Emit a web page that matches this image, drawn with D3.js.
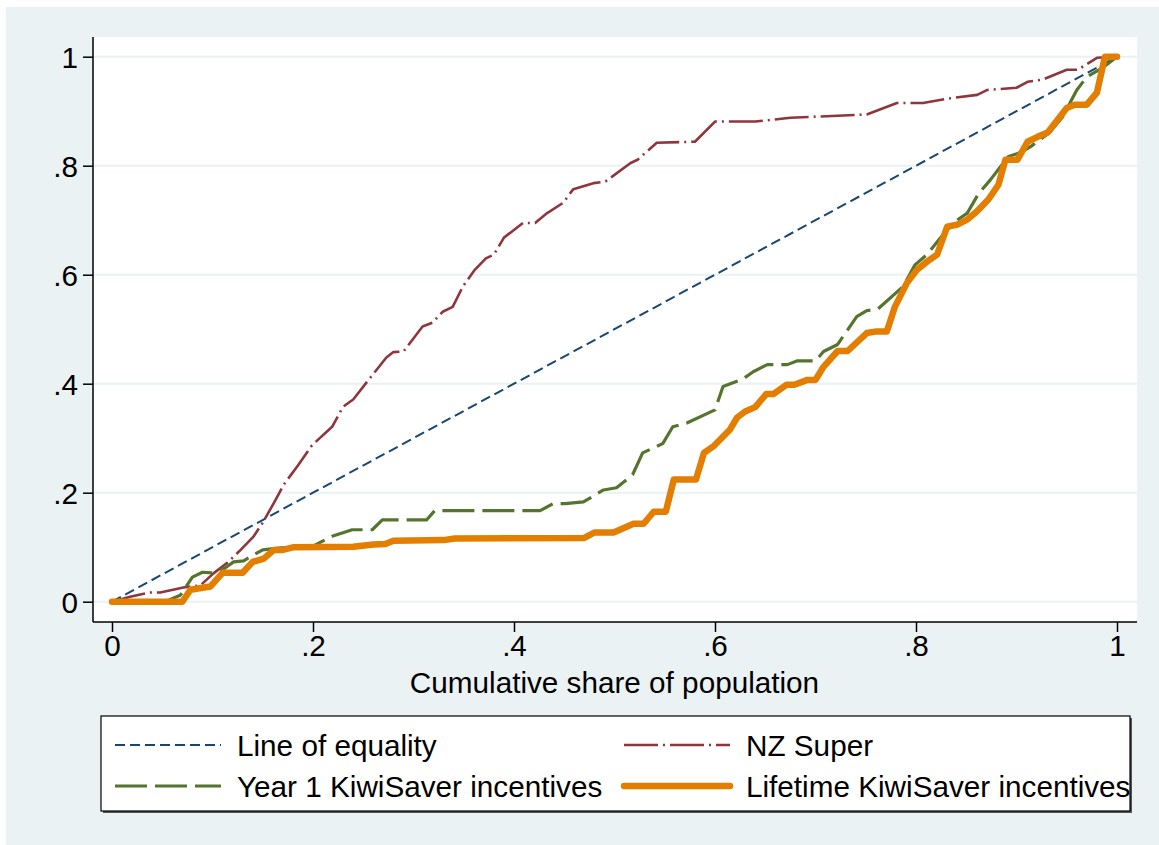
<!DOCTYPE html>
<html>
<head>
<meta charset="utf-8">
<script src="https://cdn.jsdelivr.net/npm/d3@7"></script>
<style>
  body { margin: 0; background: #ffffff; }
  text { font-family: "Liberation Sans", Arial, sans-serif; fill: #000000; }
</style>
</head>
<body>
<div class="D3"></div>
<script>
//concentration curve data
var equalityX = [0, 1];
var equalityY = [0, 1];

var superX = [0, 0.018, 0.038, 0.048, 0.071, 0.088, 0.101, 0.115, 0.128, 0.141, 0.150, 0.161, 0.171, 0.185, 0.199,
  0.219, 0.230, 0.240, 0.254, 0.273, 0.280, 0.290, 0.309, 0.319, 0.329, 0.339, 0.349, 0.361, 0.372, 0.380,
  0.390, 0.409, 0.421, 0.433, 0.449, 0.459, 0.479, 0.491, 0.516, 0.523, 0.542, 0.580, 0.600, 0.640, 0.675,
  0.751, 0.781, 0.807, 0.831, 0.861, 0.871, 0.900, 0.911, 0.926, 0.950, 0.961, 0.980, 1];
var superY = [0, 0.009, 0.017, 0.017, 0.026, 0.030, 0.052, 0.072, 0.095, 0.120, 0.145, 0.181, 0.215, 0.250, 0.287,
  0.321, 0.358, 0.371, 0.404, 0.448, 0.458, 0.459, 0.505, 0.512, 0.532, 0.541, 0.578, 0.609, 0.630, 0.637,
  0.668, 0.695, 0.695, 0.713, 0.732, 0.757, 0.768, 0.771, 0.805, 0.811, 0.842, 0.844, 0.881, 0.881, 0.888,
  0.894, 0.915, 0.915, 0.923, 0.930, 0.939, 0.943, 0.954, 0.958, 0.976, 0.976, 0.998, 1];

var year1X = [0, 0.055, 0.068, 0.080, 0.090, 0.100, 0.111, 0.121, 0.131, 0.141, 0.150, 0.168, 0.199, 0.219, 0.239,
  0.259, 0.269, 0.313, 0.321, 0.426, 0.439, 0.451, 0.469, 0.489, 0.502, 0.518, 0.528, 0.548, 0.558, 0.572,
  0.600, 0.608, 0.628, 0.638, 0.652, 0.672, 0.682, 0.700, 0.708, 0.722, 0.741, 0.751, 0.762, 0.787, 0.799,
  0.811, 0.824, 0.837, 0.851, 0.862, 0.874, 0.884, 0.892, 0.904, 0.914, 0.933, 0.946, 0.960, 0.970, 0.986, 1];
var year1Y = [0, 0.002, 0.012, 0.045, 0.054, 0.053, 0.060, 0.073, 0.075, 0.086, 0.095, 0.099, 0.101, 0.120, 0.132,
  0.132, 0.150, 0.150, 0.167, 0.167, 0.180, 0.180, 0.183, 0.205, 0.209, 0.233, 0.273, 0.290, 0.321, 0.328,
  0.352, 0.395, 0.409, 0.422, 0.435, 0.435, 0.442, 0.442, 0.459, 0.472, 0.523, 0.534, 0.537, 0.578, 0.618,
  0.637, 0.667, 0.695, 0.713, 0.748, 0.774, 0.798, 0.817, 0.824, 0.835, 0.861, 0.890, 0.939, 0.963, 0.980, 1];

var lifetimeX = [0, 0.070, 0.078, 0.098, 0.110, 0.130, 0.140, 0.151, 0.161, 0.170, 0.181, 0.240, 0.260, 0.272, 0.280,
  0.330, 0.341, 0.470, 0.480, 0.499, 0.519, 0.529, 0.539, 0.551, 0.559, 0.581, 0.589, 0.599, 0.615, 0.622,
  0.630, 0.640, 0.651, 0.658, 0.671, 0.679, 0.692, 0.700, 0.708, 0.722, 0.732, 0.751, 0.761, 0.771, 0.779,
  0.791, 0.801, 0.811, 0.821, 0.831, 0.841, 0.851, 0.861, 0.872, 0.882, 0.889, 0.901, 0.911, 0.921, 0.931,
  0.950, 0.958, 0.970, 0.980, 0.988, 1];
var lifetimeY = [0, 0, 0.022, 0.028, 0.053, 0.053, 0.073, 0.079, 0.095, 0.095, 0.100, 0.101, 0.105, 0.106, 0.112,
  0.113, 0.116, 0.117, 0.127, 0.127, 0.143, 0.143, 0.165, 0.165, 0.224, 0.224, 0.273, 0.286, 0.316, 0.338,
  0.349, 0.357, 0.381, 0.381, 0.398, 0.398, 0.407, 0.407, 0.431, 0.460, 0.460, 0.493, 0.496, 0.496, 0.541,
  0.585, 0.609, 0.624, 0.637, 0.688, 0.692, 0.701, 0.717, 0.738, 0.765, 0.811, 0.811, 0.844, 0.853, 0.861,
  0.906, 0.912, 0.912, 0.934, 1.0, 1];

var tickValues = [0, 0.2, 0.4, 0.6, 0.8, 1];
var tickLabels = ["0", ".2", ".4", ".6", ".8", "1"];
var xTitle = "Cumulative share of population";

//series names and their stata-like styles
var seriesNames = ["Line of equality", "NZ Super", "Year 1 KiwiSaver incentives", "Lifetime KiwiSaver incentives"];
var seriesX = [equalityX, superX, year1X, lifetimeX];
var seriesY = [equalityY, superY, year1Y, lifetimeY];
var seriesColors = ["#1a476f", "#90353b", "#55752f", "#e37e00"];
var seriesWidths = [2, 2.6, 3.2, 6.5];
var seriesDash = ["10,5", "34,5,2,5", "32,8", null];

var fontSize = 29.7;

//svg and plot region sizes
var svgWidth = 1159;
var svgHeight = 845;

var plot = { left: 93, top: 37, right: 1137, bottom: 622 };

var svg = d3
  .select(".D3")
  .append("svg")
  .attr("width", svgWidth)
  .attr("height", svgHeight);

//light outer background, white plot region
svg.append("rect")
  .attr("x", 6)
  .attr("y", 7)
  .attr("width", svgWidth - 6)
  .attr("height", svgHeight - 7)
  .attr("fill", "#eaf2f3");

svg.append("rect")
  .attr("x", plot.left)
  .attr("y", plot.top)
  .attr("width", plot.right - plot.left)
  .attr("height", plot.bottom - plot.top)
  .attr("fill", "#ffffff");

//scales
var xScale = d3.scaleLinear()
  .domain([0, 1])
  .range([112, 1117]);

var yScale = d3.scaleLinear()
  .domain([0, 1])
  .range([601.7, 56.7]);

//horizontal grid lines
svg.append("g")
  .selectAll("line")
  .data(tickValues)
  .enter()
  .append("line")
  .attr("x1", plot.left)
  .attr("x2", plot.right)
  .attr("y1", d => yScale(d))
  .attr("y2", d => yScale(d))
  .attr("stroke", "#eaf2f3")
  .attr("stroke-width", 2);

//axes
var bottomAxis = d3.axisBottom(xScale)
  .tickValues(tickValues)
  .tickFormat((d, i) => tickLabels[i])
  .tickSize(10)
  .tickPadding(4)
  .tickSizeOuter(0);

var leftAxis = d3.axisLeft(yScale)
  .tickValues(tickValues)
  .tickFormat((d, i) => tickLabels[i])
  .tickSize(10)
  .tickPadding(5)
  .tickSizeOuter(0);

var xAxis = svg.append("g")
  .attr("transform", `translate(0, ${plot.bottom})`)
  .call(bottomAxis);

var yAxis = svg.append("g")
  .attr("transform", `translate(${plot.left}, 0)`)
  .call(leftAxis);

//stretch the domain lines over the whole plot region
xAxis.select(".domain").remove();
yAxis.select(".domain").remove();

svg.append("line")
  .attr("x1", plot.left).attr("x2", plot.right)
  .attr("y1", plot.bottom).attr("y2", plot.bottom)
  .attr("stroke", "#000").attr("stroke-width", 1.5);

svg.append("line")
  .attr("x1", plot.left).attr("x2", plot.left)
  .attr("y1", plot.top).attr("y2", plot.bottom)
  .attr("stroke", "#000").attr("stroke-width", 1.5);

[xAxis, yAxis].forEach(function(ax) {
  ax.selectAll(".tick line").attr("stroke", "#000").attr("stroke-width", 1.5);
  ax.selectAll(".tick text")
    .attr("font-size", fontSize)
    .attr("font-family", "Liberation Sans, Arial, sans-serif")
    .attr("fill", "#000");
});
xAxis.selectAll(".tick text").attr("dy", "0.69em");
yAxis.selectAll(".tick text").attr("dy", "0.36em");

//x axis title
svg.append("text")
  .attr("x", (xScale(0) + xScale(1)) / 2)
  .attr("y", 693)
  .attr("text-anchor", "middle")
  .attr("font-size", fontSize)
  .text(xTitle);

//curves
var line = d3.line()
  .x(d => xScale(d[0]))
  .y(d => yScale(d[1]));

seriesNames.forEach(function(name, i) {
  var pts = seriesX[i].map((x, j) => [x, seriesY[i][j]]);
  svg.append("path")
    .datum(pts)
    .attr("d", line)
    .attr("fill", "none")
    .attr("stroke", seriesColors[i])
    .attr("stroke-width", seriesWidths[i])
    .attr("stroke-dasharray", seriesDash[i])
    .attr("stroke-linejoin", "round")
    .attr("stroke-linecap", i === 3 ? "round" : "butt");
});

//legend box with shadow
var legend = { x: 101, y: 716, w: 1029, h: 95 };

svg.append("rect")
  .attr("x", legend.x + 2)
  .attr("y", legend.y + 2)
  .attr("width", legend.w)
  .attr("height", legend.h)
  .attr("fill", "#555");

svg.append("rect")
  .attr("x", legend.x)
  .attr("y", legend.y)
  .attr("width", legend.w)
  .attr("height", legend.h)
  .attr("fill", "#ffffff")
  .attr("stroke", "#000")
  .attr("stroke-width", 1.2);

var legendCols = [115, 624];
var legendRows = [745, 786];

var legendItems = svg.selectAll(".legend-item")
  .data(seriesNames)
  .enter()
  .append("g")
  .classed("legend-item", true)
  .attr("transform", (d, i) => `translate(${legendCols[i % 2]}, ${legendRows[Math.floor(i / 2)]})`);

legendItems.append("line")
  .attr("x1", 0)
  .attr("x2", 106)
  .attr("y1", 0)
  .attr("y2", 0)
  .attr("stroke", (d, i) => seriesColors[i])
  .attr("stroke-width", (d, i) => seriesWidths[i])
  .attr("stroke-dasharray", (d, i) => seriesDash[i])
  .attr("stroke-linecap", (d, i) => i === 3 ? "round" : "butt");

legendItems.append("text")
  .attr("x", 122)
  .attr("y", 0)
  .attr("dy", "0.36em")
  .attr("font-size", fontSize)
  .text(d => d);
</script>
</body>
</html>
